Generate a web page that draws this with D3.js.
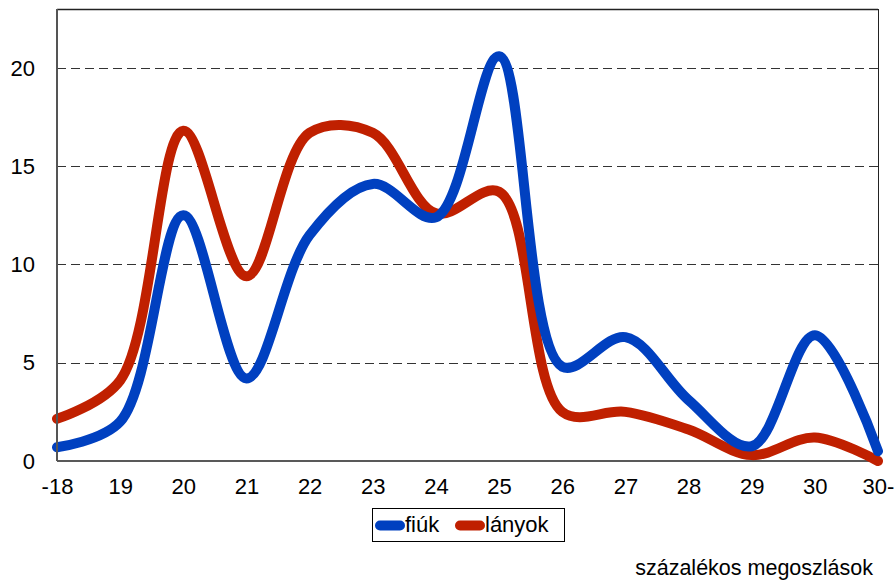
<!DOCTYPE html>
<html>
<head>
<meta charset="utf-8">
<script src="https://cdn.jsdelivr.net/npm/d3@7"></script>
<style>
  body { margin: 0; background: #fff; }
  svg { display: block; font-family: "Liberation Sans", Arial, sans-serif; }
</style>
</head>
<body>
<div id="chart"></div>
<script>
const categories = ["-18", "19", "20", "21", "22", "23", "24", "25", "26", "27", "28", "29", "30", "30-"];
const fiuk   = [0.7, 2.0, 12.5, 4.2, 11.5, 14.1, 12.4, 20.6, 4.8, 6.3, 3.1, 0.75, 6.4, 0.5];
const lanyok = [2.15, 4.1, 16.8, 9.4, 16.7, 16.7, 12.6, 13.7, 2.5, 2.5, 1.6, 0.3, 1.2, 0.0];
const yTicks = [0, 5, 10, 15, 20];

const width = 894, height = 580;
const mLeft = 57, mRight = 878, mTop = 9, mBottom = 461;
const font = "'Liberation Sans', Arial, sans-serif";

const svg = d3.select("#chart").append("svg")
    .attr("width", width)
    .attr("height", height);

const x = d3.scalePoint().domain(categories).range([mLeft, mRight]);
const y = d3.scaleLinear().domain([0, 23]).range([mBottom, mTop]);

// grid lines
svg.append("g")
    .selectAll("line")
    .data(yTicks.filter(d => d > 0))
    .enter().append("line")
    .attr("x1", mLeft).attr("x2", mRight)
    .attr("y1", d => Math.round(y(d)) + 0.5).attr("y2", d => Math.round(y(d)) + 0.5)
    .attr("stroke", "#333")
    .attr("stroke-width", 1)
    .attr("stroke-dasharray", "9,5");

// frame
svg.append("line").attr("x1", mLeft).attr("x2", mRight).attr("y1", mTop + 0.5).attr("y2", mTop + 0.5)
    .attr("stroke", "#222").attr("stroke-width", 1.5);
svg.append("line").attr("x1", mRight + 0.5).attr("x2", mRight + 0.5).attr("y1", mTop).attr("y2", mBottom)
    .attr("stroke", "#222").attr("stroke-width", 1);
svg.append("line").attr("x1", mLeft).attr("x2", mRight).attr("y1", mBottom).attr("y2", mBottom)
    .attr("stroke", "#222").attr("stroke-width", 1.5);

// y axis labels
const yAxis = svg.append("g")
    .attr("transform", `translate(${mLeft},0)`)
    .call(d3.axisLeft(y).tickValues(yTicks).tickSize(0).tickPadding(22));
yAxis.select(".domain").remove();
yAxis.selectAll("text").style("font-size", "22px").attr("fill", "#000").style("font-family", font);

// x axis labels
const xAxis = svg.append("g")
    .attr("transform", `translate(0,${mBottom})`)
    .call(d3.axisBottom(x).tickSize(0).tickPadding(17));
xAxis.select(".domain").remove();
xAxis.selectAll("text").style("font-size", "22px").attr("fill", "#000").style("font-family", font);

const line = d3.line()
    .x((d, i) => x(categories[i]))
    .y(d => y(d))
    .curve(d3.curveCatmullRom.alpha(0.5));

svg.append("path").datum(lanyok)
    .attr("d", line)
    .attr("fill", "none")
    .attr("stroke", "#c02000")
    .attr("stroke-width", 10)
    .attr("stroke-linecap", "round")
    .attr("stroke-linejoin", "round");

svg.append("path").datum(fiuk)
    .attr("d", line)
    .attr("fill", "none")
    .attr("stroke", "#0040c0")
    .attr("stroke-width", 10)
    .attr("stroke-linecap", "round")
    .attr("stroke-linejoin", "round");

// left axis line on top of series
svg.append("line").attr("x1", mLeft).attr("x2", mLeft).attr("y1", mTop).attr("y2", mBottom)
    .attr("stroke", "#555").attr("stroke-width", 2);

// legend
const legend = svg.append("g");
legend.append("rect")
    .attr("x", 372.5).attr("y", 508.5).attr("width", 192).attr("height", 33)
    .attr("fill", "#fff").attr("stroke", "#000").attr("stroke-width", 1);
const items = [{ name: "fiúk", color: "#0040c0", x: 380 }, { name: "lányok", color: "#c02000", x: 460 }];
items.forEach(it => {
    legend.append("line")
        .attr("x1", it.x).attr("x2", it.x + 20)
        .attr("y1", 525.5).attr("y2", 525.5)
        .attr("stroke", it.color).attr("stroke-width", 10).attr("stroke-linecap", "round");
    legend.append("text")
        .attr("x", it.x + 25).attr("y", 532)
        .style("font-size", "22px")
        .style("font-family", font)
        .text(it.name);
});

svg.append("text")
    .attr("x", 873).attr("y", 575)
    .attr("text-anchor", "end")
    .style("font-size", "21.5px")
    .style("font-family", font)
    .text("százalékos megoszlások");
</script>
</body>
</html>
